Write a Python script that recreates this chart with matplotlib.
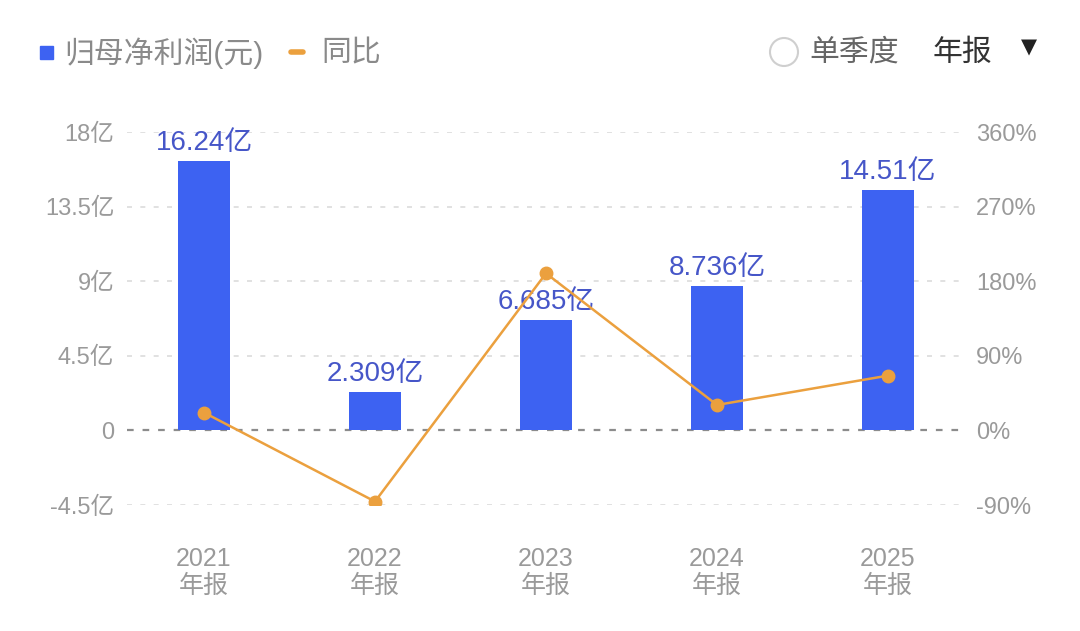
import matplotlib
matplotlib.use("Agg")
import matplotlib.pyplot as plt
from matplotlib.patches import Ellipse, Rectangle

plt.rcParams["font.family"] = ["Liberation Sans", "Noto Sans CJK SC", "DejaVu Sans"]

YEARS = ["2021", "2022", "2023", "2024", "2025"]
PERIOD = "年报"
PROFIT = [16.24, 2.309, 6.685, 8.736, 14.51]          # 亿
PROFIT_LABELS = ["16.24亿", "2.309亿", "6.685亿", "8.736亿", "14.51亿"]
YOY = [21.5, -85.8, 189.5, 30.7, 66.1]                 # %
LEFT_TICKS = [-4.5, 0, 4.5, 9, 13.5, 18]
LEFT_TICK_LABELS = ["-4.5亿", "0", "4.5亿", "9亿", "13.5亿", "18亿"]
RIGHT_TICKS = [-90, 0, 90, 180, 270, 360]
RIGHT_TICK_LABELS = ["-90%", "0%", "90%", "180%", "270%", "360%"]

BAR_COLOR = "#3d62f2"
LABEL_COLOR = "#4656c8"
LINE_COLOR = "#eba03e"
GRAY = "#9a9a9a"

W, H = 1080, 631
fig = plt.figure(figsize=(W / 100, H / 100), dpi=100)
ax = fig.add_axes([118.5 / W, 1 - 505 / H, 855 / W, 373 / H])
ax2 = ax.twinx()

x = list(range(len(YEARS)))
ax.set_xlim(-0.5, len(YEARS) - 0.5)
ax.set_ylim(-4.5, 18)
ax2.set_ylim(-90, 360)

for a in (ax, ax2):
    for s in a.spines.values():
        s.set_visible(False)

# grid
for t in LEFT_TICKS:
    if t == 0:
        ax.axhline(t, xmin=0.01, xmax=0.99, color="#8c8c8c", lw=1.6,
                   ls=(0, (3, 4)), zorder=1)
    else:
        ax.axhline(t, xmin=0.01, xmax=0.99, color="#dcdcdc", lw=1.2,
                   ls=(0, (3, 5)), zorder=0)

ax.bar(x, PROFIT, width=0.3, color=BAR_COLOR, zorder=2)
for xi, v, lab in zip(x, PROFIT, PROFIT_LABELS):
    ax.text(xi, v + 0.3, lab, ha="center", va="bottom", fontsize=20,
            color=LABEL_COLOR, zorder=3)

ax2.plot(x, YOY, color=LINE_COLOR, lw=1.8, marker="o", markersize=9,
         zorder=4)
ax2.set_zorder(ax.get_zorder() + 1)
ax2.patch.set_visible(False)

ax.set_yticks(LEFT_TICKS)
ax.set_yticklabels(LEFT_TICK_LABELS)
ax2.set_yticks(RIGHT_TICKS)
ax2.set_yticklabels(RIGHT_TICK_LABELS)
ax.tick_params(axis="y", length=0, pad=3, labelsize=17, labelcolor=GRAY)
ax2.tick_params(axis="y", length=0, pad=2, labelsize=17, labelcolor=GRAY)

ax.set_xticks(x)
ax.set_xticklabels([f"{y}\n{PERIOD}" for y in YEARS], linespacing=1.15)
ax.tick_params(axis="x", length=0, pad=30, labelsize=18, labelcolor=GRAY)

# header legend
fig.patches.append(Rectangle((40 / W, 1 - 59 / H), 13 / W, 13 / H,
                             transform=fig.transFigure, color=BAR_COLOR))
fig.text(64 / W, 1 - 53 / H, "归母净利润(元)", fontsize=21.5, color="#8a8a8a",
         va="center", ha="left")
fig.lines.append(plt.Line2D([291 / W, 303 / W], [1 - 52 / H, 1 - 52 / H],
                            transform=fig.transFigure, color=LINE_COLOR,
                            lw=4, solid_capstyle="round"))
fig.text(321 / W, 1 - 53 / H, "同比", fontsize=21.5, color="#8a8a8a",
         va="center", ha="left")

fig.patches.append(Ellipse((784 / W, 1 - 52 / H), 28 / W, 28 / H,
                           transform=fig.transFigure, fill=False,
                           ec="#cfcfcf", lw=1.5))
fig.text(809 / W, 1 - 53 / H, "单季度", fontsize=21.5, color="#666666",
         va="center", ha="left")
fig.text(933 / W, 1 - 53 / H, "年报", fontsize=21.5, color="#333333",
         va="center", ha="left")
fig.text(1029 / W, 1 - 47 / H, "▼", fontsize=15, color="#222222",
         va="center", ha="center", family=["DejaVu Sans"])

fig.savefig("out.png", dpi=100)
